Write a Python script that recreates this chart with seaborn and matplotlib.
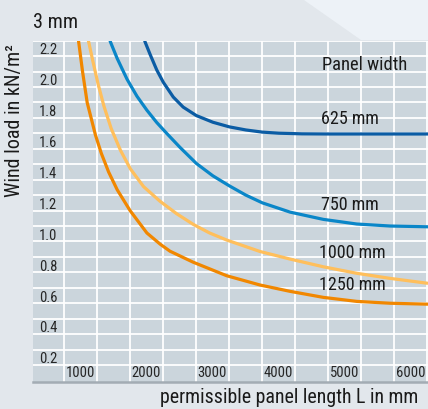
import numpy as np
import pandas as pd
import matplotlib
matplotlib.use("Agg")
import matplotlib.pyplot as plt
from matplotlib.patches import Polygon
import seaborn as sns

# donnees (longueur en mm, charge en kN/m2)
len_625 = [2215, 2300, 2400, 2500, 2650, 2800, 3000, 3250, 3500, 3750, 4000, 4250, 4600, 5000, 6510]
load_625 = [2.30, 2.21, 2.11, 2.03, 1.935, 1.87, 1.815, 1.772, 1.742, 1.722, 1.708, 1.701, 1.697, 1.696, 1.696]

len_750 = [1690, 1800, 1950, 2100, 2250, 2400, 2550, 2750, 3000, 3250, 3500, 3750, 4000, 4420, 4924, 5430, 5935, 6510]
load_750 = [2.30, 2.185, 2.05, 1.94, 1.85, 1.77, 1.70, 1.61, 1.505, 1.425, 1.36, 1.30, 1.25, 1.19, 1.143, 1.113, 1.10, 1.095]

len_1000 = [1364, 1430, 1510, 1600, 1710, 1850, 2000, 2200, 2450, 2700, 2955, 3200, 3461, 3965, 4420, 4924, 5430, 5935, 6510]
load_1000 = [2.30, 2.17, 2.02, 1.875, 1.73, 1.59, 1.47, 1.355, 1.26, 1.18, 1.11, 1.055, 1.009, 0.935, 0.886, 0.836, 0.794, 0.761, 0.729]

len_1250 = [1214, 1275, 1345, 1470, 1560, 1670, 1800, 1995, 2250, 2450, 2600, 2950, 3460, 3965, 4420, 4924, 5430, 5935, 6510]
load_1250 = [2.30, 2.10, 1.90, 1.69, 1.57, 1.45, 1.335, 1.20, 1.055, 0.983, 0.937, 0.866, 0.778, 0.718, 0.677, 0.638, 0.612, 0.600, 0.594]

widths = ["625 mm", "750 mm", "1000 mm", "1250 mm"]
colors = ["#0b5ca4", "#0a86c8", "#ffbf5c", "#f18700"]
label_pos = [(4885, 1.792), (4885, 1.236), (4864, 0.923), (4864, 0.718)]

x_ticks = [1000, 2000, 3000, 4000, 5000, 6000]
y_ticks = [0.2, 0.4, 0.6, 0.8, 1.0, 1.2, 1.4, 1.6, 1.8, 2.0, 2.2]

# tableau long pour seaborn
frames = []
for nom, L, q in zip(widths, [len_625, len_750, len_1000, len_1250],
                     [load_625, load_750, load_1000, load_1250]):
    frames.append(pd.DataFrame({"L": L, "q": q, "width": nom}))
df = pd.concat(frames, ignore_index=True)

sns.set_style("white")
plt.rcParams['font.family'] = ['Roboto Condensed', 'DejaVu Sans']

fig = plt.figure(figsize=(4.28, 4.09), dpi=100, facecolor="#e2e7ec")
# zone plus claire en haut a droite
fig.patches.append(Polygon([(304 / 428, 1), (1, 1), (1, 1 - 40 / 409), (361 / 428, 1 - 40 / 409)],
                           closed=True, transform=fig.transFigure, facecolor="#edf2f7",
                           edgecolor="none", zorder=0))

ax = fig.add_axes([0.078, 0.066, 0.922, 0.8345])
ax.set_facecolor("#cbd5dc")

ax.set_xlim(530, 6510)
ax.set_ylim(0.09, 2.3)
ax.set_xticks(np.arange(1000, 6600, 500))
ax.set_yticks(np.arange(0.2, 2.35, 0.1))
ax.grid(True, color="white", lw=1.3)
ax.set_axisbelow(True)
ax.tick_params(length=0, labelbottom=False, labelleft=False)
for s in ["left", "right", "top"]:
    ax.spines[s].set_visible(False)
ax.spines["bottom"].set_color("#a3acb4")
ax.spines["bottom"].set_linewidth(1.8)

sns.lineplot(data=df, x="L", y="q", hue="width", palette=colors,
             estimator=None, sort=False, lw=2.3, legend=False, ax=ax,
             solid_joinstyle="round", solid_capstyle="butt")
ax.set_xlabel("")
ax.set_ylabel("")

# etiquettes des axes dans la zone du graphique
for v in y_ticks:
    ax.text(617, v + 0.011, f"{v:.1f}", fontsize=10.5, color="#262626",
            ha="left", va="baseline")
for v in x_ticks:
    ax.text(v + 21, 0.122, str(v), fontsize=10.5, color="#262626",
            ha="left", va="baseline")

ax.text(4905, 2.142, "Panel width", fontsize=13.3, color="#1a1a1a", ha="left", va="center")
for nom, (x, y) in zip(widths, label_pos):
    ax.text(x, y, nom, fontsize=13, color="#1a1a1a", ha="left", va="center")

fig.text(33 / 428, 1 - 22 / 409, "3 mm", fontsize=14.5, color="#1a1a1a", ha="left", va="center")
fig.text(15 / 428, 1 - 121 / 409, "Wind load in kN/m²", fontsize=14.5, rotation=90,
         color="#1a1a1a", ha="center", va="center")
fig.text(0.977, 0.015, "permissible panel length L in mm", fontsize=14.3,
         color="#1a1a1a", ha="right", va="baseline")

fig.savefig("out.png", dpi=100, facecolor=fig.get_facecolor())
